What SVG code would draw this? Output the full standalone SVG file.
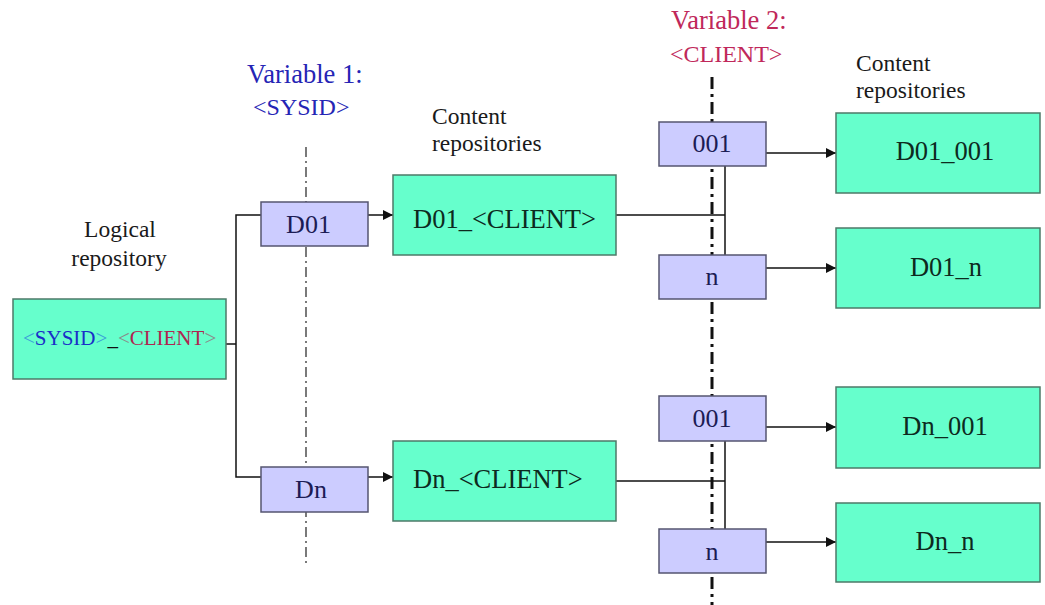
<svg xmlns="http://www.w3.org/2000/svg" width="1045" height="605" viewBox="0 0 1045 605">
  <style>
    text { font-family: "Liberation Serif", "Times New Roman", serif; }
    .repo { fill: #66ffcc; stroke: #4d7a68; stroke-width: 1.5; }
    .var { fill: #ccccff; stroke: #555570; stroke-width: 1.5; }
    .repo-t { font-size: 26.5px; fill: #0d2a1e; }
    .var-t { font-size: 26px; fill: #1c1c55; text-anchor: middle; }
    .cap { font-size: 23.5px; fill: #1a1a1a; }
    .wire { fill: none; stroke: #111; stroke-width: 1.5; }
    .axis1 { stroke: #333; stroke-width: 1.3; stroke-dasharray: 10 4 2 4; }
    .axis2 { stroke: #111; stroke-width: 3; stroke-dasharray: 12 5 3 5; }
  </style>
  <defs>
    <marker id="arrow" viewBox="0 0 10 10" refX="10" refY="5" markerWidth="10" markerHeight="10" markerUnits="userSpaceOnUse" orient="auto">
      <path d="M0,0 L10,5 L0,10 Z" fill="#111"/>
    </marker>
  </defs>

  <rect width="1045" height="605" fill="#ffffff"/>

  <!-- variable axes -->
  <g id="axes">
    <line class="axis1" x1="306" y1="147" x2="306" y2="566"/>
    <line class="axis2" x1="712" y1="77" x2="712" y2="605"/>
  </g>

  <!-- captions -->
  <g id="captions">
    <text class="cap" x="120" y="237" text-anchor="middle">Logical</text>
    <text class="cap" x="119" y="266" text-anchor="middle">repository</text>
    <text x="247" y="83" font-size="26.5" fill="#2525b5">Variable 1:</text>
    <text x="253" y="115" font-size="24" fill="#2525b5">&lt;SYSID&gt;</text>
    <text class="cap" x="432" y="124">Content</text>
    <text class="cap" x="432" y="151">repositories</text>
    <text x="671" y="29" font-size="26.5" fill="#c0285a">Variable 2:</text>
    <text x="670" y="62" font-size="24" fill="#c0285a">&lt;CLIENT&gt;</text>
    <text class="cap" x="856" y="71">Content</text>
    <text class="cap" x="856" y="98">repositories</text>
  </g>

  <!-- connectors -->
  <g id="connectors">
    <polyline class="wire" points="226,344 236,344"/>
    <polyline class="wire" points="261,215 236,215 236,477 261,477"/>
    <line class="wire" x1="368" y1="215" x2="393" y2="215" marker-end="url(#arrow)"/>
    <line class="wire" x1="368" y1="477" x2="393" y2="477" marker-end="url(#arrow)"/>
    <polyline class="wire" points="616,215 725,215"/>
    <line class="wire" x1="725" y1="166" x2="725" y2="255"/>
    <polyline class="wire" points="616,481 725,481"/>
    <line class="wire" x1="725" y1="441" x2="725" y2="529"/>
    <line class="wire" x1="766" y1="153" x2="836" y2="153" marker-end="url(#arrow)"/>
    <line class="wire" x1="766" y1="268" x2="836" y2="268" marker-end="url(#arrow)"/>
    <line class="wire" x1="766" y1="427" x2="836" y2="427" marker-end="url(#arrow)"/>
    <line class="wire" x1="766" y1="542" x2="836" y2="542" marker-end="url(#arrow)"/>
  </g>

  <!-- logical repository -->
  <g id="logical">
    <rect class="repo" x="13" y="299" width="213" height="80"/>
    <text x="23" y="345" font-size="21"><tspan fill="#3aa0d8">&lt;</tspan><tspan fill="#1a2fc8">SYSID</tspan><tspan fill="#3aa0d8">&gt;</tspan><tspan fill="#111">_</tspan><tspan fill="#8a8a8a">&lt;</tspan><tspan fill="#b02550">CLIENT</tspan><tspan fill="#8a8a8a">&gt;</tspan></text>
  </g>

  <!-- variable 1 values -->
  <g id="sysid-d01">
    <rect class="var" x="261" y="202" width="107" height="44"/>
    <text class="var-t" x="308.5" y="233">D01</text>
  </g>
  <g id="sysid-dn">
    <rect class="var" x="261" y="467" width="107" height="45"/>
    <text class="var-t" x="311" y="498">Dn</text>
  </g>

  <!-- per-system repositories -->
  <g id="repo-d01">
    <rect class="repo" x="393" y="175" width="223" height="80"/>
    <text class="repo-t" x="413" y="228" font-size="23.5">D01_&lt;CLIENT&gt;</text>
  </g>
  <g id="repo-dn">
    <rect class="repo" x="393" y="441" width="223" height="80"/>
    <text class="repo-t" x="413" y="488">Dn_&lt;CLIENT&gt;</text>
  </g>

  <!-- variable 2 values -->
  <g id="client-d01-001">
    <rect class="var" x="659" y="122" width="107" height="44"/>
    <text class="var-t" x="712" y="152">001</text>
  </g>
  <g id="client-d01-n">
    <rect class="var" x="659" y="255" width="107" height="44"/>
    <text class="var-t" x="712" y="285">n</text>
  </g>
  <g id="client-dn-001">
    <rect class="var" x="659" y="396" width="107" height="45"/>
    <text class="var-t" x="712" y="427">001</text>
  </g>
  <g id="client-dn-n">
    <rect class="var" x="659" y="529" width="107" height="44"/>
    <text class="var-t" x="712" y="560">n</text>
  </g>

  <!-- content repositories -->
  <g id="repo-d01-001">
    <rect class="repo" x="836" y="113" width="204" height="80"/>
    <text class="repo-t" x="945" y="160" text-anchor="middle">D01_001</text>
  </g>
  <g id="repo-d01-n">
    <rect class="repo" x="836" y="228" width="204" height="80"/>
    <text class="repo-t" x="946" y="276" text-anchor="middle">D01_n</text>
  </g>
  <g id="repo-dn-001">
    <rect class="repo" x="836" y="387" width="204" height="81"/>
    <text class="repo-t" x="945" y="435" text-anchor="middle">Dn_001</text>
  </g>
  <g id="repo-dn-n">
    <rect class="repo" x="836" y="503" width="204" height="79"/>
    <text class="repo-t" x="945" y="550" text-anchor="middle">Dn_n</text>
  </g>
</svg>
